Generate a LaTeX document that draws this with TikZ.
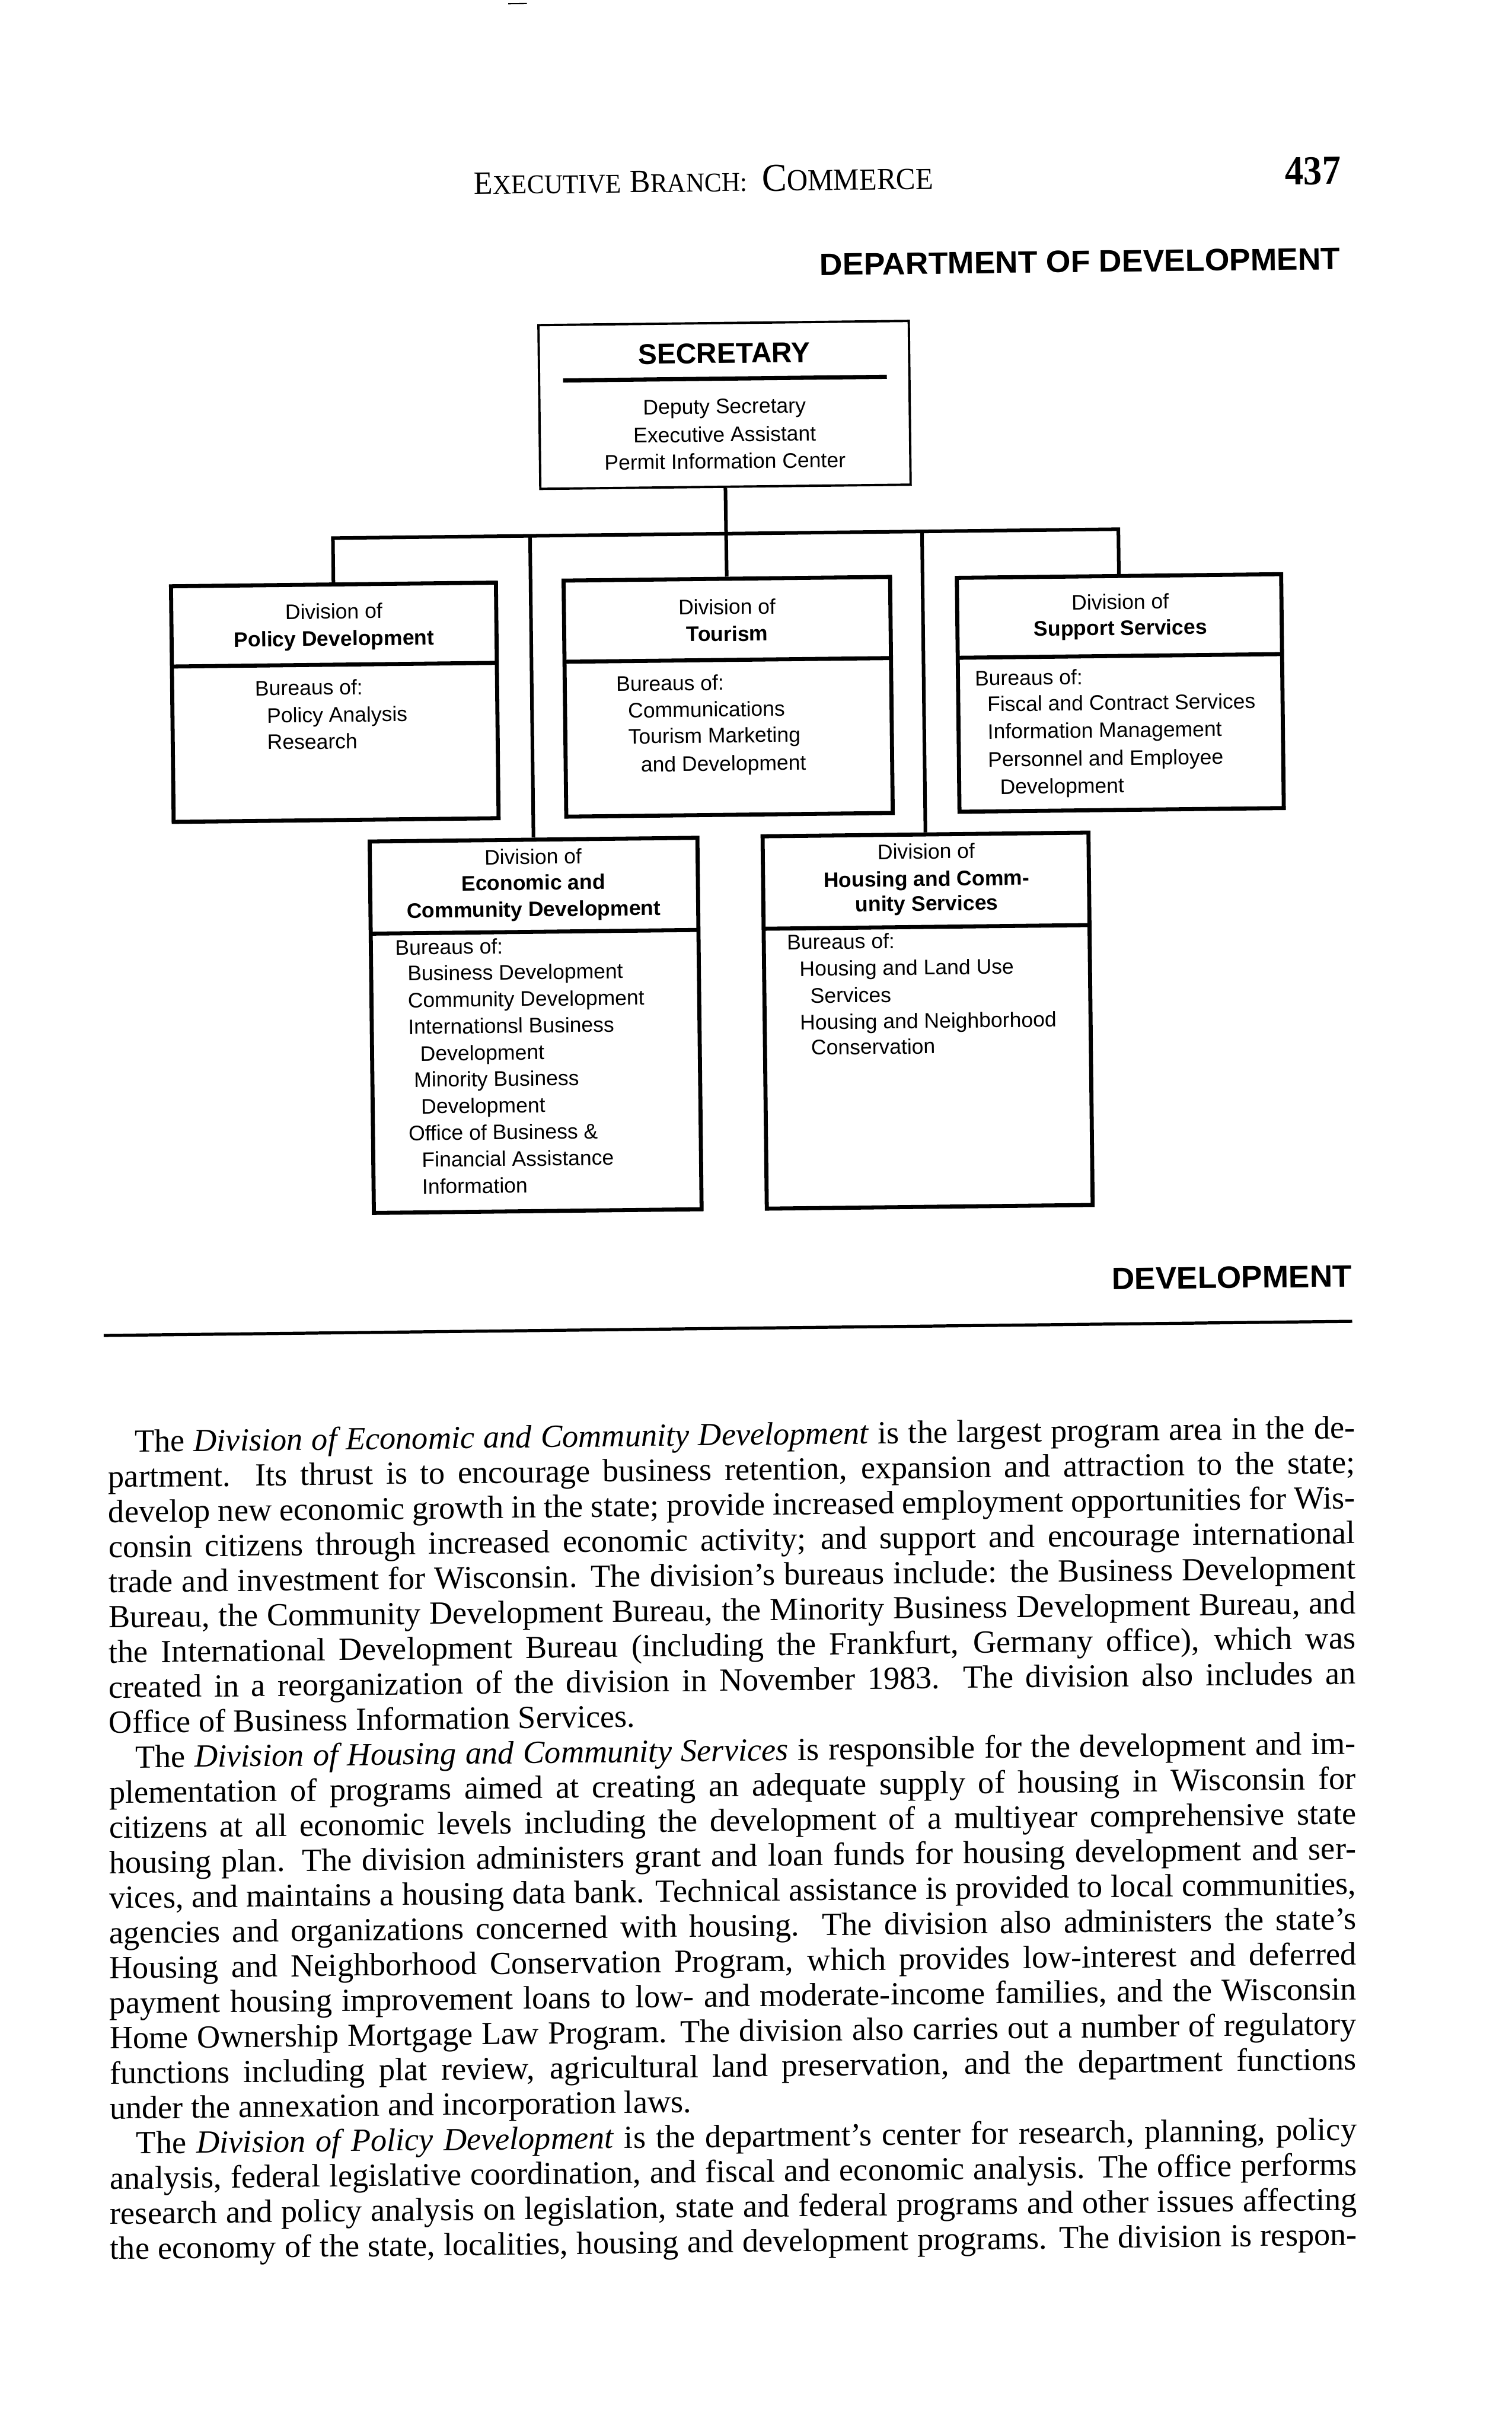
\documentclass[tikz,border=0pt]{standalone}
\usepackage{fontspec}
\usepackage{graphicx}
\setmainfont{Liberation Serif}
\newfontfamily\chartfont{Liberation Sans}
\newcommand\jl[1]{\hbox to 805pt{#1}}
\newcommand\jlast[1]{\hbox to 805pt{#1\hfil}}
\newcommand\scA[1]{{\fontsize{21}{21}\selectfont #1}}
\newcommand\scB[1]{{\fontsize{17.5}{17.5}\selectfont #1}}
\newcommand\scC[1]{{\fontsize{25.5}{25.5}\selectfont #1}}
\newcommand\scD[1]{{\fontsize{19.8}{19.8}\selectfont #1}}
\begin{document}
\begin{tikzpicture}[x=1pt,y=-1pt,
  divbox/.style={draw,line width=2.6pt,inner sep=0pt},
  conn/.style={line width=2.3pt},
  ct/.style={inner sep=0pt,font=\chartfont\fontsize{13.6}{16}\selectfont},
  ctb/.style={inner sep=0pt,font=\chartfont\bfseries\fontsize{13.6}{16}\selectfont},
  hd/.style={inner sep=0pt}]
\fill[white] (0,0) rectangle (976,1568);
\useasboundingbox (0,0) rectangle (976,1568);
\begin{scope}[rotate around={0.65:(488,784)}, transform shape]
% top mark
\draw[line width=0.8pt] (337,0.6) -- (349,0.6);
% header
\node[hd, anchor=base west] (hdr) at (313.5,123.4) {\resizebox{296.5pt}{\height}{\scA{E}\scB{XECUTIVE}\hskip 6pt\scA{B}\scB{RANCH:}\hskip 10pt\scC{C}\scD{OMMERCE}}};
\node[hd, anchor=base east, font=\bfseries\fontsize{26.6}{26.6}\selectfont] (pg) at (873.5,123.1) {\resizebox{36pt}{\height}{437}};
\node[hd, anchor=base east, font=\chartfont\bfseries\fontsize{20}{20}\selectfont] (dept) at (872.5,178.2) {\resizebox{336pt}{\height}{DEPARTMENT OF DEVELOPMENT}};
% boxes
\node[divbox, line width=1.5pt, minimum width=239.1pt, minimum height=105.7pt] (sec) at (473.7,261.15) {};
\node[divbox, minimum width=209.8pt, minimum height=152.1pt] (pol) at (219.9,450.25) {};
\node[divbox, minimum width=210.8pt, minimum height=152.4pt] (tour) at (473.9,449.6) {};
\node[divbox, minimum width=209.4pt, minimum height=151pt] (sup) at (727.1,450) {};
\node[divbox, minimum width=211.6pt, minimum height=239.8pt] (econ) at (347.2,660.3) {};
\node[divbox, minimum width=210.4pt, minimum height=240.4pt] (hous) at (600.3,660.1) {};
% dividers
\draw[line width=2.6pt] (115,426) -- (324.8,426);
\draw[line width=2.6pt] (368.5,425.8) -- (579.3,425.8);
\draw[line width=2.6pt] (622.4,426.1) -- (831.8,426.1);
\draw[line width=2.6pt] (241.4,599.9) -- (453,599.9);
\draw[line width=2.6pt] (495.1,599.6) -- (705.5,599.6);
\draw[line width=2.7pt] (369.6,244.2) -- (578.7,244.2);
% connectors
\coordinate (barL) at (219.9,344.3);
\coordinate (barR) at (727.6,344.3);
\draw[conn] (sec.south) -- (tour.north);
\draw[conn, line join=miter] (pol.north) -- (pol.north |- barL) -- (sup.north |- barR) -- (sup.north);
\draw[conn] (econ.north |- barL) -- (econ.north);
\draw[conn] (hous.north |- barL) -- (hous.north);
% secretary text
\node[hd, anchor=base, font=\chartfont\bfseries\fontsize{18.5}{18.5}\selectfont] (sect) at (473.8,234.2) {\resizebox{111pt}{\height}{SECRETARY}};
\node[ct, anchor=base] (s1) at (473.6,266.8) {Deputy Secretary};
\node[ct, anchor=base] (s2) at (473.6,285) {Executive Assistant};
\node[ct, anchor=base] (s3) at (473.6,302.3) {Permit Information Center};
% policy
\node[ct, anchor=base] (p1) at (219.9,396.4) {Division of};
\node[ctb, anchor=base] (p2) at (219.9,413.9) {Policy Development};
\node[ct, anchor=base west] (p3) at (168.3,445.4) {Bureaus of:};
\node[ct, anchor=base west] (p4) at (175.8,463.1) {Policy Analysis};
\node[ct, anchor=base west] (p5) at (175.8,480.3) {Research};
% tourism
\node[ct, anchor=base] (t1) at (473.8,396.4) {Division of};
\node[ctb, anchor=base] (t2) at (473.8,413.7) {Tourism};
\node[ct, anchor=base west] (t3) at (401.5,445.2) {Bureaus of:};
\node[ct, anchor=base west] (t4) at (409,462.4) {Communications};
\node[ct, anchor=base west] (t5) at (409,479.2) {Tourism Marketing};
\node[ct, anchor=base west] (t6) at (416.9,497.4) {and Development};
% support
\node[ct, anchor=base] (u1) at (727.7,396) {Division of};
\node[ctb, anchor=base] (u2) at (727.7,412.7) {Support Services};
\node[ct, anchor=base west] (u3) at (633.1,444.2) {Bureaus of:};
\node[ct, anchor=base west] (u4) at (641,461) {Fiscal and Contract Services};
\node[ct, anchor=base west] (u5) at (641,478.7) {Information Management};
\node[ct, anchor=base west] (u6) at (641,496.7) {Personnel and Employee};
\node[ct, anchor=base west] (u7) at (648.6,514.4) {Development};
% economic
\node[ct, anchor=base] (e1) at (346.8,556.2) {Division of};
\node[ctb, anchor=base] (e2) at (346.8,572.9) {Economic and};
\node[ctb, anchor=base] (e3) at (346.8,590.1) {Community Development};
\node[ct, anchor=base west] (e4) at (256.9,613.8) {Bureaus of:};
\node[ct, anchor=base west] (e5) at (264.7,630.6) {Business Development};
\node[ct, anchor=base west] (e6) at (264.7,647.9) {Community Development};
\node[ct, anchor=base west] (e7) at (264.7,665.1) {Internationsl Business};
\node[ct, anchor=base west] (e8) at (272.3,682.4) {Development};
\node[ct, anchor=base west] (e9) at (268.1,699.3) {Minority Business};
\node[ct, anchor=base west] (e10) at (272.5,716.5) {Development};
\node[ct, anchor=base west] (e11) at (264.2,733.8) {Office of Business \&};
\node[ct, anchor=base west] (e12) at (272.6,751) {Financial Assistance};
\node[ct, anchor=base west] (e13) at (272.6,768.3) {Information};
% housing
\node[ct, anchor=base] (h1) at (600.6,555.6) {Division of};
\node[ctb, anchor=base] (h2) at (600.6,573.3) {Housing and Comm-};
\node[ctb, anchor=base] (h3) at (600.6,589.2) {unity Services};
\node[ct, anchor=base west] (h4) at (509.9,613.2) {Bureaus of:};
\node[ct, anchor=base west] (h5) at (517.8,630.5) {Housing and Land Use};
\node[ct, anchor=base west] (h6) at (524.6,647.9) {Services};
\node[ct, anchor=base west] (h7) at (517.7,665) {Housing and Neighborhood};
\node[ct, anchor=base west] (h8) at (524.7,681.4) {Conservation};
% section heading and rule
\node[hd, anchor=base east, font=\chartfont\bfseries\fontsize{20}{20}\selectfont] (dev) at (872.5,835) {\resizebox{155pt}{\height}{DEVELOPMENT}};
\draw[line width=2pt] (66.1,857.3) -- (872.2,857.3);
% body text
\node[hd, anchor=base west, xslant=0.009, font=\fontsize{20.8}{22.65}\selectfont] (body) at (68,932.8) {\vtop{\spaceskip=0.25em plus 0.3em minus 0.1em
\jl{\hskip17pt The \textit{Division of Economic and Community Development} is the largest program area in the de-}
\jl{partment. Its thrust is to encourage business retention, expansion and attraction to the state;}
\jl{develop new economic growth in the state; provide increased employment opportunities for Wis-}
\jl{consin citizens through increased economic activity; and support and encourage international}
\jl{trade and investment for Wisconsin. The division’s bureaus include: the Business Development}
\jl{Bureau, the Community Development Bureau, the Minority Business Development Bureau, and}
\jl{the International Development Bureau (including the Frankfurt, Germany office), which was}
\jl{created in a reorganization of the division in November 1983. The division also includes an}
\jlast{Office of Business Information Services.}
\jl{\hskip17pt The \textit{Division of Housing and Community Services} is responsible for the development and im-}
\jl{plementation of programs aimed at creating an adequate supply of housing in Wisconsin for}
\jl{citizens at all economic levels including the development of a multiyear comprehensive state}
\jl{housing plan. The division administers grant and loan funds for housing development and ser-}
\jl{vices, and maintains a housing data bank. Technical assistance is provided to local communities,}
\jl{agencies and organizations concerned with housing. The division also administers the state’s}
\jl{Housing and Neighborhood Conservation Program, which provides low-interest and deferred}
\jl{payment housing improvement loans to low- and moderate-income families, and the Wisconsin}
\jl{Home Ownership Mortgage Law Program. The division also carries out a number of regulatory}
\jl{functions including plat review, agricultural land preservation, and the department functions}
\jlast{under the annexation and incorporation laws.}
\jl{\hskip17pt The \textit{Division of Policy Development} is the department’s center for research, planning, policy}
\jl{analysis, federal legislative coordination, and fiscal and economic analysis. The office performs}
\jl{research and policy analysis on legislation, state and federal programs and other issues affecting}
\jl{the economy of the state, localities, housing and development programs. The division is respon-}
}};
\end{scope}
\end{tikzpicture}
\end{document}
